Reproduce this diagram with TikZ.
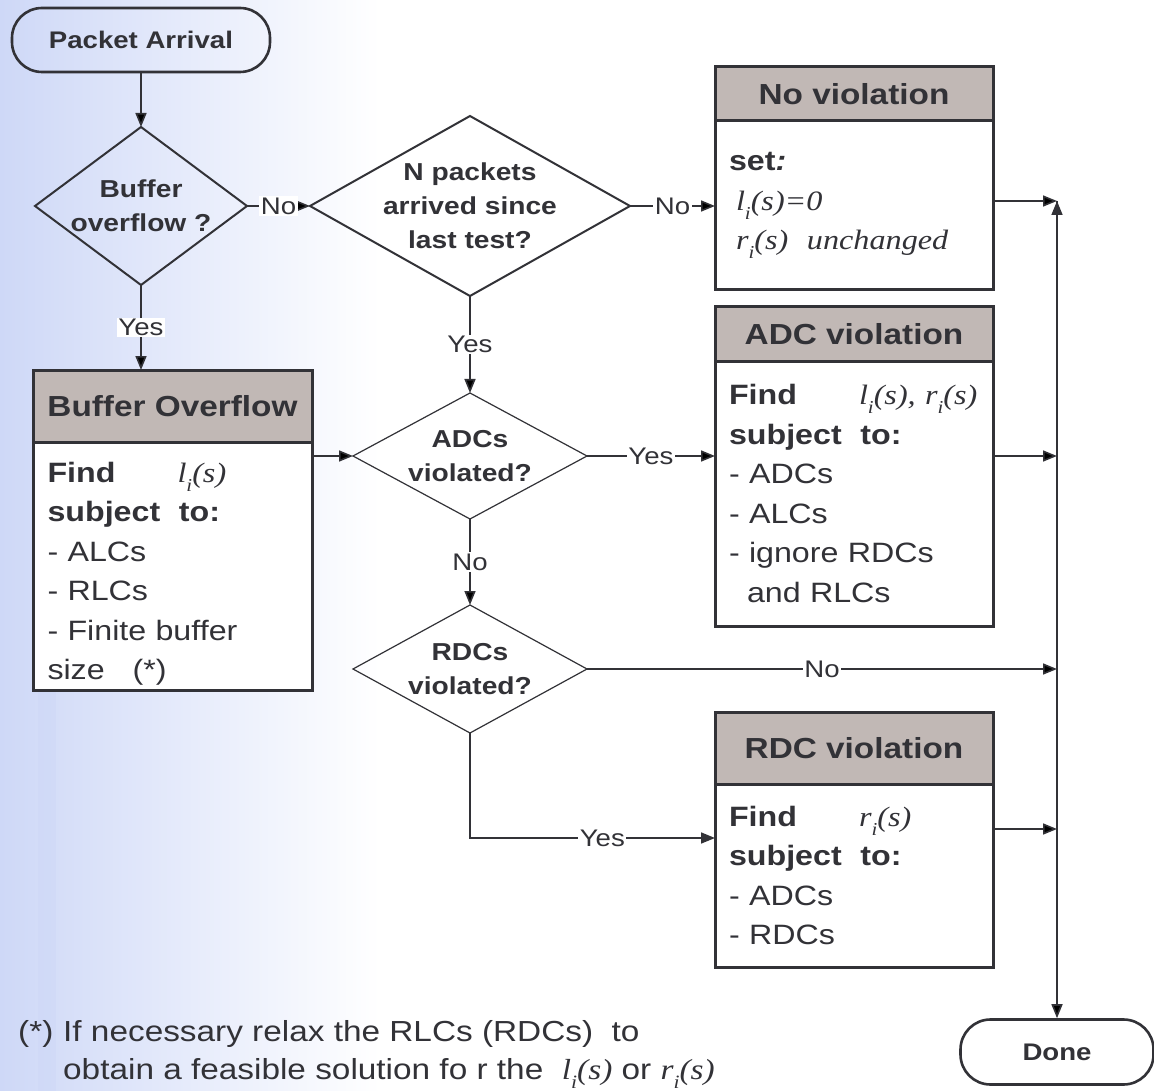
\documentclass[tikz,border=0pt]{standalone}
\usepackage{fontspec}
\setmainfont{Liberation Sans}[FakeStretch=1.15]
\newfontfamily\tms{Liberation Serif}[FakeStretch=1.15]
\usepackage{tikz}
\usetikzlibrary{arrows.meta,positioning,shapes.geometric,calc}
\definecolor{linecol}{RGB}{50,50,55}
\definecolor{headfill}{RGB}{193,184,181}
\definecolor{bgblue}{RGB}{206,216,247}
\newcommand{\fv}[1]{{\tms\itshape #1\raisebox{-0.32em}{\scalebox{0.65}{i}}(s)}}

\begin{document}
\begin{tikzpicture}[x=1pt,y=-1pt,
  every node/.style={text=linecol},
  term/.style={draw=linecol,line width=2.6pt,rounded corners=30pt,inner sep=0pt,font=\bfseries\fontsize{24}{28}\selectfont},
  dia/.style={diamond,draw=linecol,inner sep=0pt,outer sep=0pt},
  dtext/.style={align=center,font=\bfseries\fontsize{24.5}{34}\selectfont},
  head/.style={draw=linecol,fill=headfill,line width=3pt,outer sep=0pt,minimum width=278pt,font=\bfseries\fontsize{29}{34}\selectfont},
  body/.style={draw=linecol,fill=white,line width=3pt,outer sep=0pt,minimum width=278pt,text width=250pt,inner xsep=14pt,inner ysep=3pt,align=left,font=\fontsize{28}{39.5}\selectfont},
  lbl/.style={fill=white,inner sep=1.5pt,font=\fontsize{24}{28}\selectfont},
  conn/.style={draw=linecol,line width=1.6pt,-{Triangle[length=14pt,width=11pt]}}]
\useasboundingbox (0,0) rectangle (1154,1091);
\fill[white] (0,0) rectangle (1154,1091);
\shade[left color=bgblue,right color=white] (0,0) rectangle (380,1091);
\fill[bgblue,opacity=0.5] (38,690) rectangle (56,1091);

\node[term,minimum width=258pt,minimum height=64pt] (A) at (141,40) {Packet Arrival};
\node[dia,line width=2pt,minimum width=212pt,minimum height=158pt,label={[dtext]center:{Buffer\\overflow ?}}] (B) at (141,206) {};
\node[dia,line width=2pt,minimum width=320pt,minimum height=180pt,label={[dtext]center:{N packets\\arrived since\\last test?}}] (C) at (470,206) {};
\node[dia,line width=1.2pt,minimum width=234pt,minimum height=126pt,label={[dtext]center:{ADCs\\violated?}}] (D) at (470,456) {};
\node[dia,line width=1.2pt,minimum width=234pt,minimum height=128pt,label={[dtext]center:{RDCs\\violated?}}] (E) at (470,669) {};

\node[head,minimum height=54pt] (H1) at (854,94) {No violation};
\node[body,minimum height=169pt,below=0pt of H1] (N1) {\textbf{set\textit{:}}\\
  \hspace*{7pt}\fv{l}{\tms\itshape =0}\\
  \hspace*{7pt}\fv{r}{\tms\itshape\ \ unchanged}};
\node[head,minimum height=54pt] (H2) at (854,334) {ADC violation};
\node[body,minimum height=265pt,below=0pt of H2] (N2) {\makebox[130pt][l]{\textbf{Find}}\mbox{\fv{l}{\tms\itshape ,}\ \fv{r}}\\
  \textbf{subject\ \ to:}\\
  - ADCs\\
  - ALCs\\
  - ignore RDCs\\
  \hspace*{18pt}and RLCs};
\node[head,minimum height=72pt] (H3) at (854,748) {RDC violation};
\node[body,minimum height=183pt,below=0pt of H3] (N3) {\makebox[130pt][l]{\textbf{Find}}\fv{r}\\
  \textbf{subject\ \ to:}\\
  - ADCs\\
  - RDCs};
\node[head,minimum width=279pt,minimum height=72pt] (H4) at (172.5,406) {Buffer Overflow};
\node[body,minimum width=279pt,minimum height=248pt,below=0pt of H4] (N4) {\rule{0pt}{36pt}\makebox[130pt][l]{\textbf{Find}}\fv{l}\\
  \textbf{subject\ \ to:}\\
  - ALCs\\
  - RLCs\\
  - Finite buffer\\
  size\ \ \ (*)};

\node[term,minimum width=193pt,minimum height=65pt] (F) at (1057,1052) {Done};
\node[anchor=north west,align=left,inner sep=0pt,font=\fontsize{29}{38}\selectfont] (G) at (18,1020)
  {\makebox[45pt][l]{(*)}If necessary relax the RLCs (RDCs)\ \ to\\
   \hspace*{45pt}obtain a feasible solution fo r the\ \ \fv{l} or \fv{r}};

\coordinate (V) at (1057,201);
\coordinate (R3) at ([yshift=-45pt]N3.north east);
\coordinate (L3) at ([yshift=-54pt]N3.north west);

\path[conn]
(A) edge (B)
(B) edge node[lbl]{No} (C)
(C) edge node[lbl]{No} (C.east -| N1.west)
(B.south) edge node[lbl]{Yes} (B.south |- H4.north)
(C) edge node[lbl]{Yes} (D)
(N4.east |- D.west) edge (D.west)
(D) edge node[lbl]{Yes} (D.east -| N2.west)
(D) edge node[lbl]{No} (E)
(E) edge node[lbl]{No} (E.east -| V)
(V -| N1.east) edge (V)
(D.east -| N2.east) edge (D.east -| V)
(R3) edge (R3 -| V)
(V) edge (F);
\draw[conn] (E.south) |- node[lbl,pos=0.77]{Yes} (L3);
\end{tikzpicture}
\end{document}
